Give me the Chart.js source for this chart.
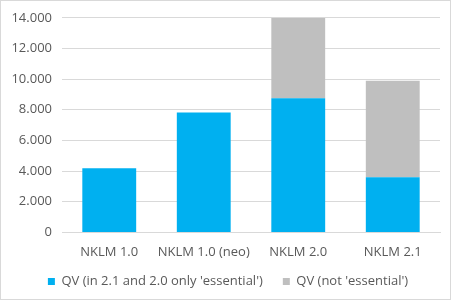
<!DOCTYPE html>
<html>
<head>
<meta charset="utf-8">
<script src="https://cdn.jsdelivr.net/npm/chart.js@4/dist/chart.umd.min.js"></script>
<style>
  html, body { margin: 0; padding: 0; background: #fff; }
  #wrap { position: relative; width: 456px; height: 303px; }
  #frame { position: absolute; left: 0; top: 0; width: 449px; height: 298px; border: 1px solid #d9d9d9; }
  canvas { position: absolute; left: 0; top: 0; }
</style>
</head>
<body>
<div id="wrap">
  <div id="frame"></div>
  <canvas id="myChart" width="456" height="303"></canvas>
</div>
<script>
const categories = ['NKLM 1.0', 'NKLM 1.0 (neo)', 'NKLM 2.0', 'NKLM 2.1'];
const essentialValues = [4180, 7830, 8750, 3600];
const notEssentialValues = [0, 0, 5230, 6300];
const seriesNames = ["QV (in 2.1 and 2.0 only 'essential')", "QV (not 'essential')"];

const ctx = document.getElementById('myChart').getContext('2d');

// legend: wider gap between items but sit closer to the axis labels
const legendTweak = {
    id: 'legendTweak',
    beforeLayout(chart) {
        const lg = chart.legend;
        if (lg && !lg._tweaked) {
            const fit = lg.fit.bind(lg);
            lg.fit = function () {
                fit();
                this.height -= 10;
            };
            lg._tweaked = true;
        }
    },
    afterLayout(chart) {
        chart.legend.top -= 9;
        chart.legend.bottom -= 9;
    }
};

const chart = new Chart(ctx, {
    type: 'bar',
    data: {
        labels: categories,
        datasets: [
            {
                label: seriesNames[0],
                data: essentialValues,
                backgroundColor: '#00b0f0',
                categoryPercentage: 1,
                barPercentage: 0.57
            },
            {
                label: seriesNames[1],
                data: notEssentialValues,
                backgroundColor: '#bfbfbf',
                categoryPercentage: 1,
                barPercentage: 0.57
            }
        ]
    },
    options: {
        responsive: false,
        animation: false,
        layout: {
            padding: { left: 0, right: 0, top: 17, bottom: 6 }
        },
        scales: {
            x: {
                stacked: true,
                grid: { display: false },
                border: { color: '#d9d9d9' },
                ticks: {
                    color: '#595959',
                    font: { family: 'Open Sans', size: 13 },
                    padding: 4,
                    autoSkip: false,
                    maxRotation: 0
                }
            },
            y: {
                stacked: true,
                min: 0,
                max: 14000,
                afterFit: (s) => { s.width = 62; },
                grid: { color: '#d9d9d9', drawTicks: false },
                border: { display: false },
                ticks: {
                    stepSize: 2000,
                    color: '#595959',
                    padding: 10,
                    font: { family: 'Open Sans', size: 13 },
                    callback: (v) => v.toLocaleString('de-DE')
                }
            },
            // empty right margin so the legend centres on the whole picture
            yRight: {
                position: 'right',
                afterFit: (s) => { s.width = 16; },
                grid: { display: false },
                border: { display: false },
                ticks: { display: false }
            }
        },
        plugins: {
            tooltip: { enabled: false },
            legend: {
                position: 'bottom',
                labels: {
                    boxWidth: 7,
                    boxHeight: 7,
                    color: '#595959',
                    padding: 20,
                    font: { family: 'Open Sans', size: 13 }
                }
            }
        }
    },
    plugins: [legendTweak]
});
</script>
</body>
</html>
